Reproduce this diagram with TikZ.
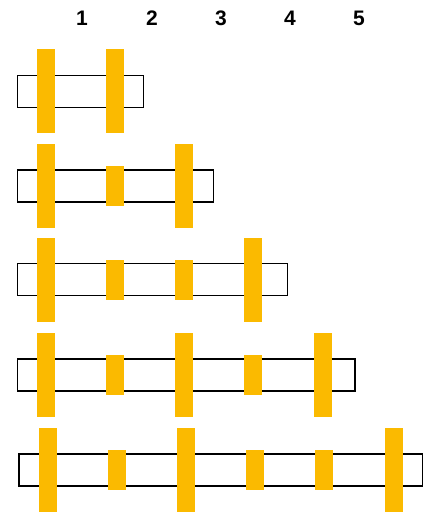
\documentclass[tikz,border=0pt]{standalone}
\usepackage{fontspec}
\setmainfont{Liberation Sans}
\definecolor{baryellow}{RGB}{251,186,0}
\tikzset{
  rowbox/.style={draw=black, line width=1.5pt, fill=none, inner sep=0pt, minimum height=32pt},
  tallbar/.style={fill=baryellow, draw=none, inner sep=0pt, minimum width=18pt, minimum height=84pt},
  shortbar/.style={fill=baryellow, draw=none, inner sep=0pt, minimum width=18pt, minimum height=40pt},
  numlabel/.style={font=\fontsize{21}{24}\selectfont\bfseries, inner sep=0pt}
}
\begin{document}
\begin{tikzpicture}[x=1pt, y=-1pt]
\useasboundingbox (0,0) rectangle (424,513);
% column labels
\foreach \i/\x in {1/82, 2/152, 3/221, 4/290, 5/359}
  \node[numlabel] (lab\i) at (\x,18) {\i};
% rows: boxes
\node[rowbox, minimum width=126pt] (r1) at (80.5,91.5) {};
\node[rowbox, minimum width=196pt] (r2) at (115.5,186) {};
\node[rowbox, minimum width=270pt] (r3) at (152.5,279.5) {};
\node[rowbox, minimum width=337.5pt] (r4) at (186.25,375) {};
\node[rowbox, minimum width=403.5pt] (r5) at (220.75,470) {};
% row 1
\node[tallbar] (b11) at (46,91) {};
\node[tallbar] (b12) at (115,91) {};
% row 2
\node[tallbar] (b21) at (46,186) {};
\node[shortbar] (b22) at (115,186) {};
\node[tallbar] (b23) at (184,186) {};
% row 3
\node[tallbar] (b31) at (46,279.5) {};
\node[shortbar] (b32) at (115,279.5) {};
\node[shortbar] (b33) at (184,279.5) {};
\node[tallbar] (b34) at (253,279.5) {};
% row 4
\node[tallbar] (b41) at (46,375) {};
\node[shortbar] (b42) at (115,375) {};
\node[tallbar] (b43) at (184,375) {};
\node[shortbar] (b44) at (253,375) {};
\node[tallbar] (b45) at (323,375) {};
% row 5
\node[tallbar] (b51) at (48,470) {};
\node[shortbar] (b52) at (117,470) {};
\node[tallbar] (b53) at (186,470) {};
\node[shortbar] (b54) at (255,470) {};
\node[shortbar] (b55) at (324,470) {};
\node[tallbar] (b56) at (394,470) {};
\end{tikzpicture}
\end{document}
